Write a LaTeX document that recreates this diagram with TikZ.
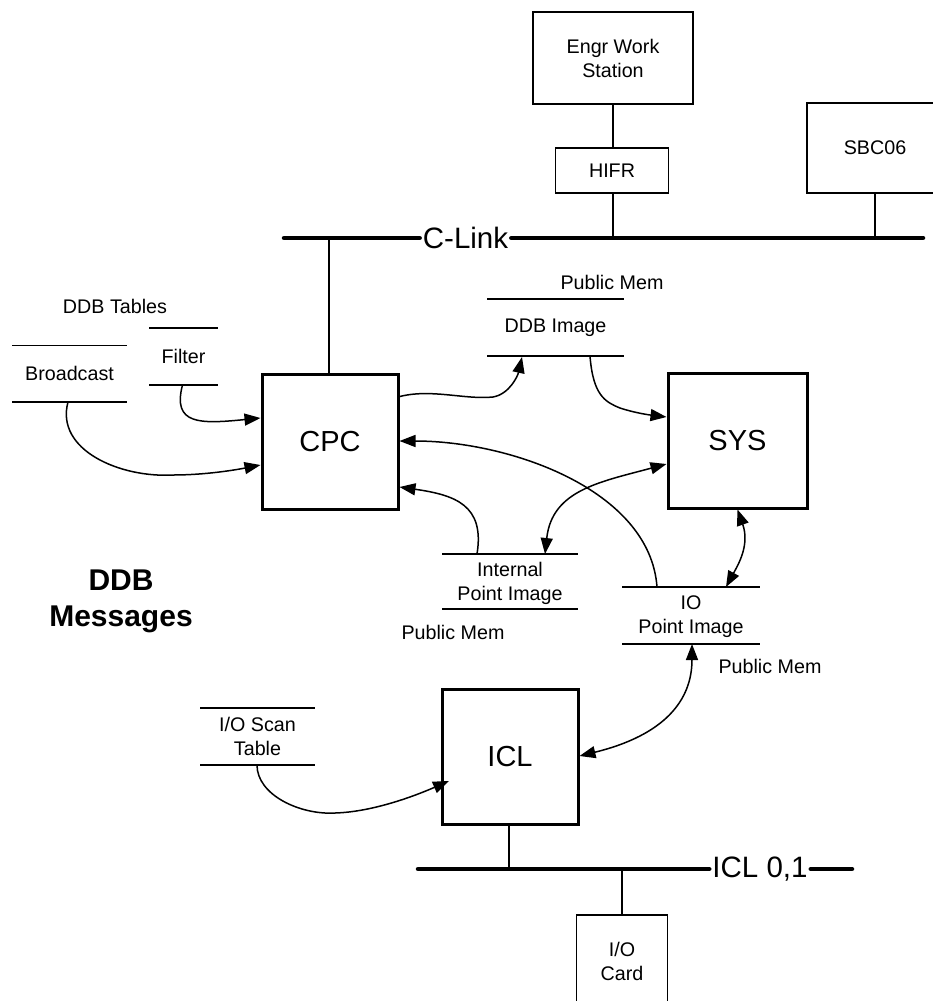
\documentclass[tikz,border=0pt]{standalone}
\usepackage{fontspec}
\setmainfont{Liberation Sans}
\usetikzlibrary{arrows.meta}
\tikzset{
  x=1pt,y=-1pt,
  procbox/.style={draw,line width=3pt,minimum width=136pt,minimum height=135pt,inner sep=0pt,font=\fontsize{29}{32}\selectfont},
  plainbox/.style={draw,line width=1.5pt,inner sep=0pt,align=center,font=\fontsize{19.7}{24}\selectfont},
  store/.style={inner sep=0pt,align=center,font=\fontsize{19.7}{24}\selectfont},
  storeline/.style={line width=1.5pt},
  lbl/.style={inner sep=0pt,align=center,font=\fontsize{19.7}{24}\selectfont},
  buslbl/.style={inner sep=3pt,font=\fontsize{29.5}{32}\selectfont},
  bus/.style={line width=4.5pt,line cap=round},
  link/.style={line width=1.5pt},
  flow/.style={line width=1.5pt,-{Triangle[length=16pt,width=12pt]}},
  biflow/.style={line width=1.5pt,{Triangle[length=16pt,width=12pt]}-{Triangle[length=16pt,width=12pt]}},
}
\newcommand{\storeshape}[7]{% name, x1, x2, ytop, ybot, text shift, text
  \coordinate (#1tl) at (#2,#4);
  \coordinate (#1tr) at (#3,#4);
  \coordinate (#1bl) at (#2,#5);
  \coordinate (#1br) at (#3,#5);
  \node[store] (#1) at ({(#2+#3)/2},{(#4+#5)/2+#6}) {#7};
  \draw[storeline] (#1tl) -- (#1tr);
  \draw[storeline] (#1bl) -- (#1br);
}
\begin{document}
\begin{tikzpicture}
\useasboundingbox (0,0) rectangle (933,1001);
% boxes
\node[plainbox,minimum width=160pt,minimum height=92pt] (engr) at (613,58) {Engr Work\\Station};
\node[plainbox,minimum width=113pt,minimum height=45pt] (hifr) at (612,170.5) {HIFR};
\node[plainbox,minimum width=136pt,minimum height=90pt] (sbc) at (875,148) {SBC06};
\node[procbox] (cpc) at (330,441.5) {CPC};
\node[procbox,minimum width=139pt] (sys) at (737.5,440.5) {SYS};
\node[procbox] (icl) at (510,756.5) {ICL};
\node[plainbox,minimum width=91pt,minimum height=92pt] (card) at (622,961) {I/O\\Card};
% buses
\node[buslbl] (clink) at (465.5,238) {C-Link};
\coordinate (cl) at (284,238);
\coordinate (cr) at (923,238);
\draw[bus] (cl) -- (clink.west);
\draw[bus] (clink.east) -- (cr);
\node[buslbl] (icllink) at (760,869) {ICL 0,1};
\coordinate (il) at (418,869);
\coordinate (ir) at (852,869);
\draw[bus] (il) -- (icllink.west);
\draw[bus] (icllink.east) -- (ir);
% stores
\storeshape{broad}{12}{127}{345.5}{402}{0}{Broadcast}
\storeshape{filter}{149}{218}{328}{385}{0}{Filter}
\storeshape{ddb}{487}{624}{299}{356}{0}{DDB Image}
\storeshape{internal}{442}{578}{554}{609}{2}{Internal\\Point Image}
\storeshape{io}{622}{760}{587}{644}{1}{IO\\Point Image}
\storeshape{scan}{200}{315}{708}{765}{0}{I/O Scan\\Table}
% labels
\node[lbl] (t1) at (115,306) {DDB Tables};
\node[lbl] (t2) at (612,282) {Public Mem};
\node[lbl] (t3) at (453,632) {Public Mem};
\node[lbl] (t4) at (770,666) {Public Mem};
\node[inner sep=0pt,align=center,font=\fontsize{30}{36}\selectfont\bfseries] (title) at (121,601) {DDB\\Messages};
% plain links
\draw[link] (engr.south) -- (engr.south |- hifr.north);
\draw[link] (hifr.south -| engr.south) -- (engr.south |- cr);
\draw[link] (sbc.south) -- (sbc.south |- cr);
\draw[link] (329,238) -- (cpc.north -| 329,0);
\draw[link] (icl.south -| 509,0) -- (509,869);
\draw[link] (card.north) -- (card.north |- il);
% flows
\coordinate (f1) at (182.5,385);
\draw[flow] (f1) .. controls (172,425) and (200,424) .. (cpc.west |- 0,418);
\coordinate (f2) at (68,402);
\draw[flow] (f2) .. controls (55,450) and (120,478) .. (173,475) .. controls (205,475) and (235,470) .. (cpc.west |- 0,465);
\coordinate (f3) at (398,397);
\coordinate (f3e) at (522,357);
\draw[flow] (f3) .. controls (430,388) and (465,400) .. (493,397) .. controls (510,394) and (518,375) .. (f3e);
\coordinate (f4) at (590,356);
\draw[flow] (f4) .. controls (593,395) and (605,402) .. (620,408) .. controls (635,413) and (650,415) .. (sys.west |- 0,417);
\coordinate (f5) at (657,587);
\draw[flow] (f5) .. controls (650,490) and (510,441) .. (cpc.east |- 0,441);
\coordinate (f6) at (477,554);
\draw[flow] (f6) .. controls (485,505) and (455,495) .. (cpc.east |- 0,487);
\coordinate (f7) at (545,554);
\draw[biflow] (f7) .. controls (552,490) and (600,482) .. (sys.west |- 0,464);
\coordinate (f8) at (726,587);
\draw[biflow] (f8) .. controls (738,565) and (750,545) .. (sys.south);
\coordinate (f9) at (692,644);
\draw[biflow] (f9) .. controls (692,700) and (665,735) .. (icl.east |- 0,756);
\coordinate (f10) at (257,765);
\coordinate (f10e) at (449,781);
\draw[flow] (f10) .. controls (257,795) and (300,815) .. (335,813) .. controls (370,812) and (410,798) .. (f10e);
\end{tikzpicture}
\end{document}
